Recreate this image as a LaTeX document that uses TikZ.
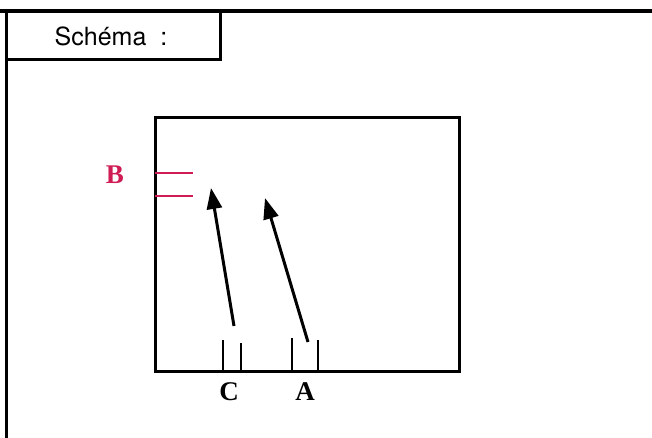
\documentclass[tikz,border=0pt]{standalone}
\usepackage{fontspec}
\newfontfamily\titrefont{TeX Gyre Heros}
\newfontfamily\lettrefont{Liberation Serif}
\usetikzlibrary{arrows.meta}
\definecolor{tache}{RGB}{208,28,84}
\begin{document}
\begin{tikzpicture}[x=1pt, y=-1pt, line width=3pt, >={Triangle[length=21pt,width=15pt]},
	every node/.style={inner sep=0pt},
	lettre/.style={font=\lettrefont\bfseries\fontsize{27}{27}\selectfont},
	trait/.style={line width=2.8pt}]
	\useasboundingbox (0,0) rectangle (652,438);
	% cadre de la fiche
	\draw[line width=4pt] (0,11.5) -- (652,11.5);
	\draw (6,11) -- (6,438);
	\draw (6,11) rectangle (220,60);
	\node (titre) at (111,36) {\titrefont\fontsize{25}{25}\selectfont Schéma\ \ :};
	
	% plaque
	\draw (155,118) rectangle (459,371);
	
	% dépôts de départ C et A
	\draw[trait] (223,340) -- (223,371);
	\draw[trait] (241,343) -- (241,371);
	\draw[trait] (292,338) -- (292,371);
	\draw[trait] (318,340) -- (318,371);
	\node[lettre] (C) at (229,392) {C};
	\node[lettre] (A) at (305,392) {A};
	
	% taches B
	\draw[tache, line width=2.2pt] (155,173) -- (193,173);
	\draw[tache, line width=2.2pt] (155,196) -- (193,196);
	\node[lettre, text=tache] (B) at (115,175) {B};
	
	% migration
	\coordinate (pied1) at (234,326);
	\coordinate (tete1) at (211,188);
	\coordinate (pied2) at (308,342);
	\coordinate (tete2) at (265,198);
	\draw[->] (pied1) -- (tete1);
	\draw[->] (pied2) -- (tete2);
\end{tikzpicture}
\end{document}
